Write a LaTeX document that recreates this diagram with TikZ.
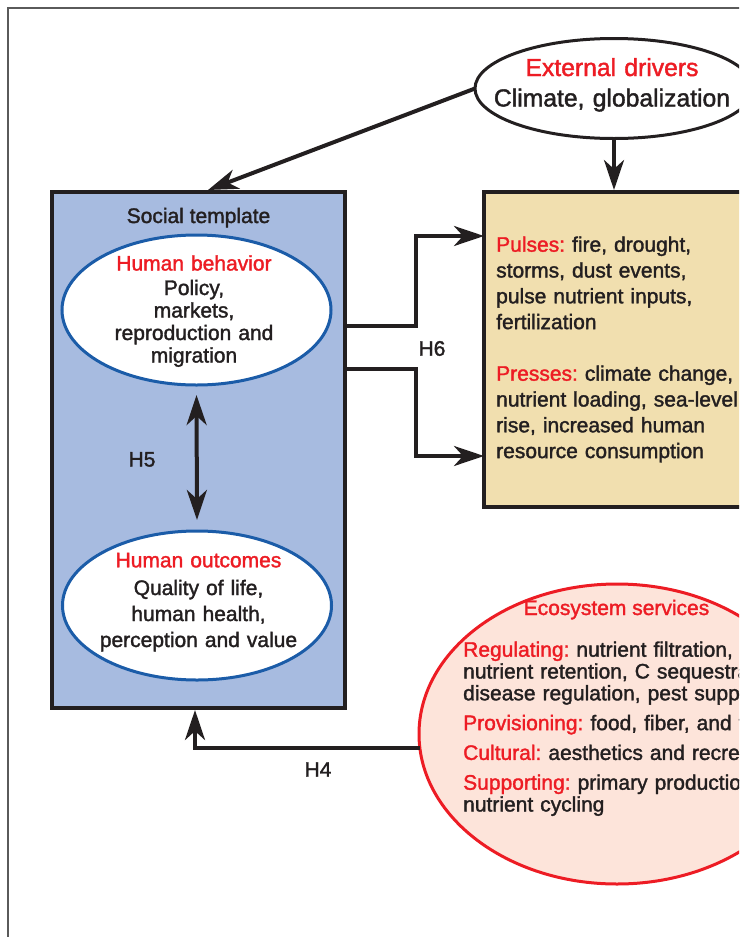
\documentclass[tikz,border=0pt]{standalone}
\usepackage{fontspec}
\setmainfont[FakeBold=1.6]{Liberation Sans}
\usetikzlibrary{arrows.meta,shapes.geometric}
\definecolor{txt}{HTML}{231F20}
\definecolor{myred}{HTML}{ED1C24}
\definecolor{socblue}{HTML}{A7BBE0}
\definecolor{tanfill}{HTML}{F1DFAF}
\definecolor{ecofill}{HTML}{FDE4DA}
\definecolor{ellblue}{HTML}{1B5CA8}
\definecolor{framegray}{HTML}{5A5A5A}
\frenchspacing
\begin{document}
\begin{tikzpicture}[x=1pt,y=-1pt,
  arr/.style={line width=4pt, draw=txt, -{Stealth[length=30pt,width=20pt,inset=9pt]}},
  dblarr/.style={line width=4pt, draw=txt, {Stealth[length=30pt,width=20pt,inset=9pt]}-{Stealth[length=30pt,width=20pt,inset=9pt]}},
  boxshape/.style={rectangle, draw=txt, line width=4pt, inner sep=0pt, outer sep=0pt},
  ellshape/.style={ellipse, line width=3pt, inner sep=0pt, outer sep=0pt},
  lbl/.style={font=\fontsize{21}{22}\selectfont, text=txt, inner sep=0pt, anchor=base},
  block/.style={text=txt, inner sep=0pt, text width=#1},
]
\useasboundingbox (0,0) rectangle (739,937);
\clip (0,0) rectangle (739,937);

% outer frame
\draw[framegray, line width=2pt] (7.5,940) -- (7.5,7.5) -- (745,7.5);

% shapes
\node[boxshape, fill=socblue, minimum width=293pt, minimum height=516pt] (soc) at (198.5,450) {};
\node[boxshape, fill=tanfill, minimum width=356pt, minimum height=315pt] (tan) at (662,349.5) {};
\node[ellshape, draw=txt, fill=white, minimum width=278pt, minimum height=100pt] (ext) at (614,88.5) {};
\node[ellshape, draw=myred, fill=ecofill, minimum width=396pt, minimum height=300pt] (eco) at (617,734) {};
\node[ellshape, draw=ellblue, fill=white, minimum width=269pt, minimum height=150pt] (hb) at (196.5,310) {};
\node[ellshape, draw=ellblue, fill=white, minimum width=269pt, minimum height=149pt] (ho) at (197,605.5) {};

% texts
\node[block=270pt, align=center, anchor=base, font=\fontsize{24.7}{30.5}\selectfont] (extt) at (612,76)
  {{\color{myred}External drivers}\\Climate, globalization};
\node[lbl] (stl) at (198.5,223) {Social template};
\node[block=260pt, align=center, anchor=base, font=\fontsize{21}{22.5}\selectfont] (hbt) at (194,270.5)
  {{\color{myred}Human behavior}\\[2pt]Policy,\\markets,\\reproduction and\\migration};
\node[block=260pt, align=center, anchor=base, font=\fontsize{21}{26}\selectfont] (hot) at (198.5,567.3)
  {{\color{myred}Human outcomes}\\[1.7pt]Quality of life,\\human health,\\perception and value};
\node[block=500pt, align=left, anchor=base west, font=\fontsize{21}{25.8}\selectfont] (tant) at (496,251.7)
  {{\color{myred}Pulses:} fire, drought,\\storms, dust events,\\pulse nutrient inputs,\\fertilization\\[25.8pt]{\color{myred}Presses:} climate change,\\nutrient loading, sea-level\\rise, increased human\\resource consumption};
\node[lbl, text=myred] (ecot) at (616.5,615) {Ecosystem services};
\node[block=500pt, align=left, anchor=base west, font=\fontsize{21}{21.8}\selectfont] (ecob) at (463,656.7)
  {{\color{myred}Regulating:} nutrient filtration,\\nutrient retention, C sequestration,\\disease regulation, pest suppression\\[8pt]{\color{myred}Provisioning:} food, fiber, and fuel\\[8pt]{\color{myred}Cultural:} aesthetics and recreation\\[8pt]{\color{myred}Supporting:} primary production,\\nutrient cycling};
\node[lbl] (h4) at (318,776.7) {H4};
\node[lbl] (h5) at (142,466.5) {H5};
\node[lbl] (h6) at (432,355.7) {H6};

% connectors
\coordinate (socin) at (208,190);
\draw[arr] (ext.west) -- (socin);
\draw[arr] (ext.south) -- (ext.south |- 0,190);
\draw[arr] (soc.east |- 0,326) -- (416,326) |- (tan.west |- 0,236);
\draw[arr] (soc.east |- 0,369) -- (416,369) |- (tan.west |- 0,456);
\draw[dblarr] ([yshift=-10pt]hb.south) -- ([yshift=11pt]ho.north);
\coordinate (h4tip) at (195,710);
\draw[arr] (eco.184) -| (h4tip);
\end{tikzpicture}
\end{document}
